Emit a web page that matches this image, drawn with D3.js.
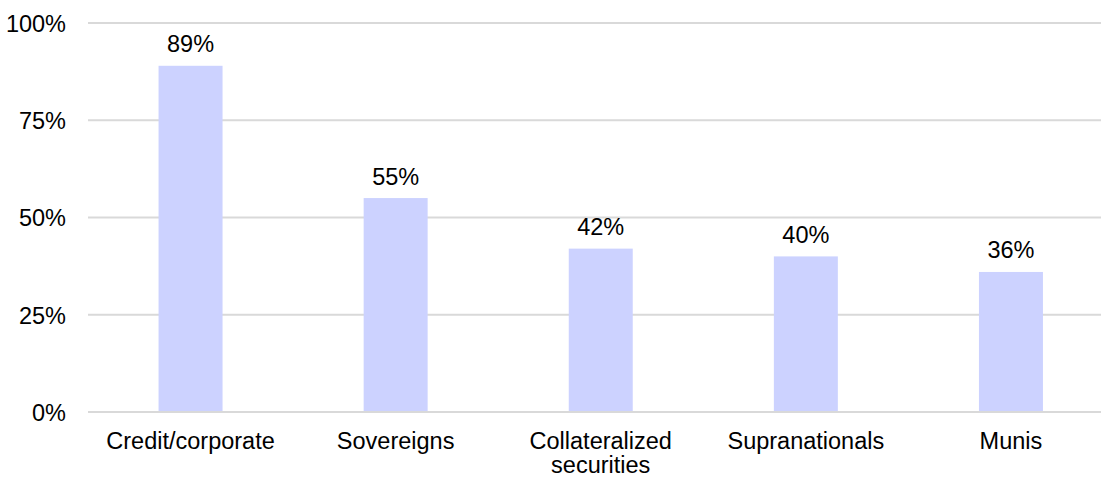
<!DOCTYPE html>
<html>
<head>
<meta charset="utf-8">
<script src="https://cdn.jsdelivr.net/npm/d3@7"></script>
<style>
  html, body { margin: 0; padding: 0; background: #fff; }
  svg { display: block; }
  text { font-family: "Liberation Sans", Arial, sans-serif; fill: #000; }
</style>
</head>
<body>
<svg id="chart" width="1101" height="478"></svg>
<script>
const categories = ["Credit/corporate", "Sovereigns", "Collateralized securities", "Supranationals", "Munis"];
const categoryLines = [["Credit/corporate"], ["Sovereigns"], ["Collateralized", "securities"], ["Supranationals"], ["Munis"]];
const values = [89, 55, 42, 40, 36];
const yTicks = [0, 25, 50, 75, 100];

const W = 1101, H = 478;
const mLeft = 88, mRight = 1113.5, mTop = 23, mBottom = 412;
const fs = 23.5;
const svg = d3.select("#chart");

const x = d3.scaleBand().domain(categories).range([mLeft, mRight]).paddingInner(0.688).paddingOuter(0.344);
const y = d3.scaleLinear().domain([0, 100]).range([mBottom, mTop]);

// gridlines
svg.append("g").selectAll("line").data(yTicks).join("line")
  .attr("x1", mLeft).attr("x2", mRight)
  .attr("y1", d => y(d)).attr("y2", d => y(d))
  .attr("stroke", "#d9d9d9").attr("stroke-width", 2);

// y labels
svg.append("g").selectAll("text").data(yTicks).join("text")
  .attr("x", 66).attr("y", d => y(d)).attr("dy", "0.38em")
  .attr("text-anchor", "end").attr("font-size", fs)
  .text(d => d + "%");

// bars
svg.append("g").selectAll("rect").data(values).join("rect")
  .attr("x", (d, i) => x(categories[i]))
  .attr("width", x.bandwidth())
  .attr("y", d => y(d))
  .attr("height", d => y(0) - y(d) - 1)
  .attr("fill", "#ccd2ff");

// value labels
svg.append("g").selectAll("text").data(values).join("text")
  .attr("x", (d, i) => x(categories[i]) + x.bandwidth() / 2)
  .attr("y", d => y(d) - 13.5)
  .attr("text-anchor", "middle").attr("font-size", fs)
  .text(d => d + "%");

// category labels
const cat = svg.append("g").selectAll("text").data(categories).join("text")
  .attr("x", d => x(d) + x.bandwidth() / 2)
  .attr("y", 448.5)
  .attr("text-anchor", "middle").attr("font-size", fs);
cat.each(function(d, i) {
  d3.select(this).selectAll("tspan").data(categoryLines[i]).join("tspan")
    .attr("x", x(d) + x.bandwidth() / 2)
    .attr("dy", (l, j) => j === 0 ? 0 : 24.5)
    .text(l => l);
});
</script>
</body>
</html>
